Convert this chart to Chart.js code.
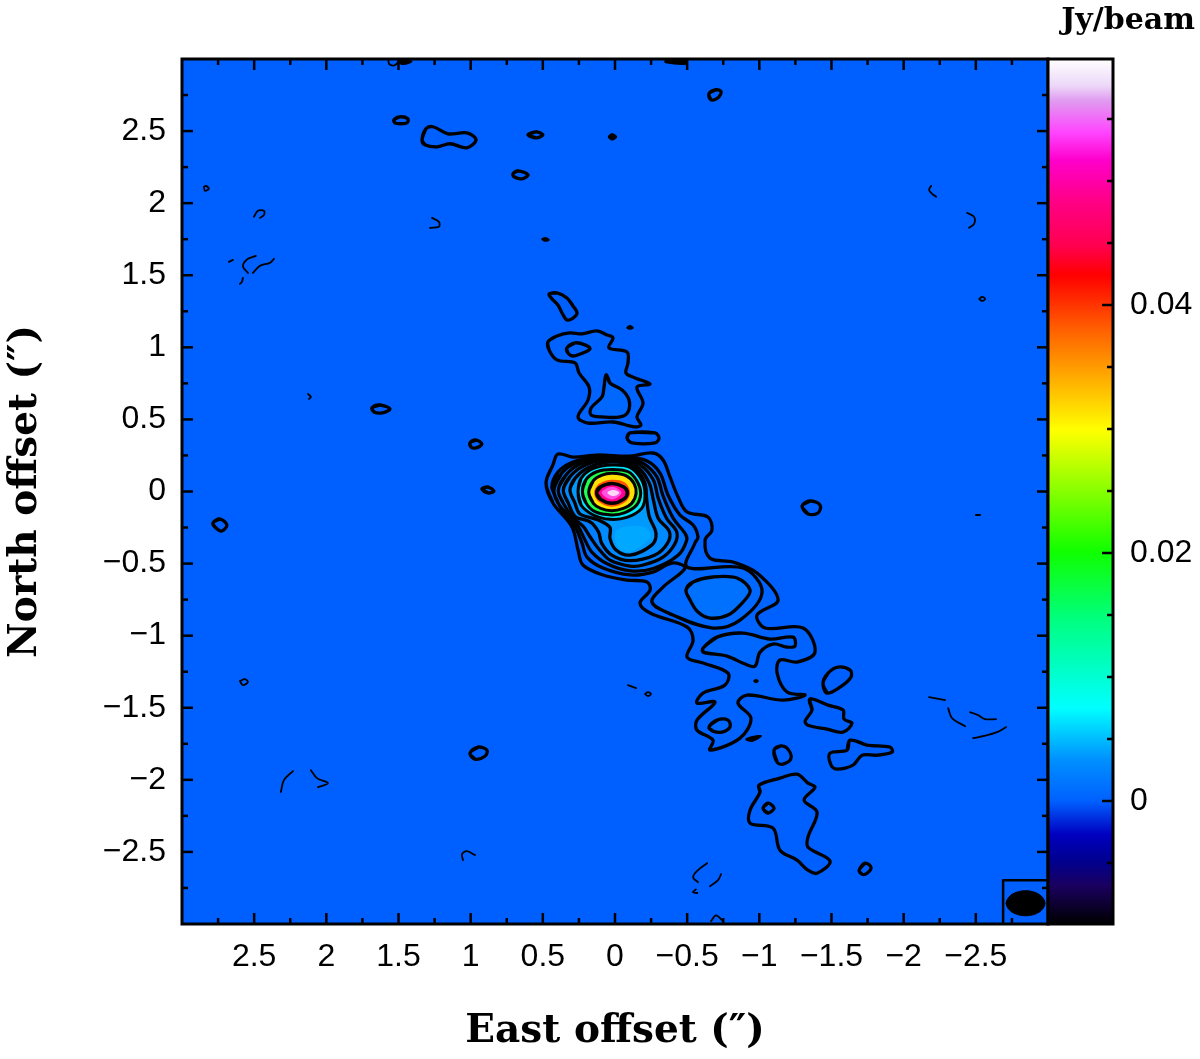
<!DOCTYPE html>
<html>
<head>
<meta charset="utf-8">
<title>Contour map</title>
<script src="https://cdn.jsdelivr.net/npm/chart.js@4/dist/chart.umd.js"></script>
<style>
  html, body { margin: 0; padding: 0; background: #fff; }
  canvas { position: absolute; top: 0; }
  #map { left: 0; }
  #cbar { left: 1040px; }
</style>
</head>
<body>
<canvas id="map" width="1060" height="1059"></canvas>
<canvas id="cbar" width="160" height="1059"></canvas>
<script>
// axis ticks, arcsec
const xTicks = [2.5, 2, 1.5, 1, 0.5, 0, -0.5, -1, -1.5, -2, -2.5];
const yTicks = [2.5, 2, 1.5, 1, 0.5, 0, -0.5, -1, -1.5, -2, -2.5];
const minorTicks = [2.75, 2.25, 1.75, 1.25, 0.75, 0.25, -0.25, -0.75, -1.25, -1.75, -2.25, -2.75];

// colour bar, Jy/beam
const cbarTicks = [0, 0.02, 0.04];
const cbarMinor = [-0.005, 0.005, 0.01, 0.015, 0.025, 0.03, 0.035, 0.045, 0.05, 0.055];
const cbarValues = [-0.00992, -0.0068, -0.0048, -0.0027, 0, 0.0033, 0.0075, 0.0146, 0.0201, 0.0299, 0.038, 0.0424, 0.0448, 0.0485, 0.0517, 0.0539, 0.0565, 0.0577, 0.05984];
const cbarColors = ['#000000', '#1a0060', '#000090', '#0000c0', '#0060ff', '#0090ff', '#00ffff', '#00ff80', '#10ff00', '#ffff00', '#ff6000', '#ff0000', '#ff0050', '#ff0088', '#ff00cc', '#ff44ff', '#e09cf0', '#ecd8f8', '#ffffff'];

// contours as [east, north] in arcsec, outermost first
const ridgeLevel1 = [[.478,.059],[.430,.184],[.395,.260],[.291,.239],[.125,.253],[-.104,.246],[-.263,.267],[-.333,.219],[-.381,.101],[-.437,-.038],[-.499,-.142],[-.644,-.177],[-.672,-.267],[-.624,-.337],[-.658,-.462],[-.818,-.489],[-.984,-.566],[-1.130,-.753],[-.984,-.857],[-1.040,-.947],[-1.303,-.947],[-1.386,-1.114],[-1.261,-1.183],[-1.143,-1.169],[-1.123,-1.260],[-1.192,-1.391],[-1.317,-1.412],[-1.164,-1.447],[-.915,-1.412],[-.852,-1.468],[-.942,-1.572],[-.866,-1.711],[-.658,-1.794],[-.679,-1.725],[-.568,-1.655],[-.568,-1.586],[-.693,-1.461],[-.568,-1.468],[-.610,-1.398],[-.762,-1.343],[-.783,-1.260],[-.610,-1.190],[-.499,-1.149],[-.541,-1.031],[-.499,-.940],[-.243,-.843],[-.173,-.774],[-.243,-.684],[-.222,-.628],[-.083,-.614],[.083,-.579],[.222,-.510],[.256,-.406],[.298,-.246],[.430,-.080]];
const ridgeLevel2 = [[.437,.031],[.395,.135],[.291,.205],[.125,.239],[-.083,.239],[-.222,.212],[-.312,.128],[-.367,-.024],[-.450,-.163],[-.541,-.232],[-.575,-.316],[-.554,-.357],[-.499,-.524],[-.887,-.531],[-1.019,-.697],[-.866,-.892],[-.679,-.947],[-.402,-.857],[-.256,-.767],[-.333,-.663],[-.485,-.531],[-.395,-.496],[-.263,-.559],[-.104,-.579],[.083,-.531],[.194,-.455],[.229,-.357],[.277,-.246],[.360,-.149],[.395,-.059]];
const lobe4 = [[.423,.010],[.370,.126],[.266,.200],[.104,.230],[-.081,.230],[-.196,.195],[-.289,.103],[-.335,-.036],[-.404,-.187],[-.485,-.291],[-.497,-.337],[-.439,-.441],[-.266,-.534],[-.104,-.550],[.058,-.499],[.162,-.418],[.208,-.337],[.254,-.244],[.312,-.180],[.393,-.082]];
const lobe3 = [[.393,.010],[.340,.114],[.242,.190],[.092,.223],[-.081,.223],[-.185,.177],[-.266,.079],[-.300,-.048],[-.358,-.187],[-.427,-.279],[-.416,-.360],[-.335,-.453],[-.196,-.510],[-.104,-.517],[.035,-.476],[.115,-.395],[.173,-.314],[.219,-.244],[.293,-.180],[.358,-.082]];
const lobe2 = [[.358,.010],[.312,.103],[.219,.177],[.081,.218],[-.069,.214],[-.169,.160],[-.238,.056],[-.266,-.059],[-.300,-.187],[-.377,-.279],[-.363,-.360],[-.277,-.441],[-.104,-.480],[.023,-.441],[.092,-.360],[.115,-.279],[.173,-.210],[.275,-.175],[.323,-.082]];
const lobe1 = [[.312,.010],[.277,.091],[.196,.160],[.069,.202],[-.069,.195],[-.150,.149],[-.208,.056],[-.220,-.059],[-.238,-.175],[-.284,-.291],[-.254,-.372],[-.104,-.441],[-.007,-.406],[.035,-.325],[.035,-.249],[.115,-.198],[.242,-.156],[.277,-.082]];
const lobeCore = [[-.012,-.268],[-.196,-.244],[-.247,-.314],[-.104,-.418],[-.016,-.383]];
const ring1 = [[.256,.000],[.235,.091],[.150,.160],[.021,.184],[-.104,.167],[-.185,.079],[-.208,-.025],[-.185,-.117],[-.081,-.180],[.035,-.193],[.150,-.163],[.235,-.094]];
const ring2 = [[.226,.000],[.200,.084],[.127,.137],[.021,.153],[-.092,.137],[-.155,.068],[-.178,-.013],[-.150,-.094],[-.069,-.147],[.023,-.163],[.139,-.140],[.200,-.082]];
const ring3 = [[.182,-.006],[.150,.075],[.090,.114],[.016,.126],[-.081,.107],[-.132,.056],[-.146,-.013],[-.116,-.082],[-.058,-.117],[.023,-.133],[.100,-.117],[.150,-.082]];
const peakHalo = [[.145,-.008],[.108,.056],[.021,.082],[-.069,.063],[-.105,-.008],[-.069,-.075],[.021,-.105],[.108,-.075]];
const peakRing = [[.127,-.008],[.099,.033],[.021,.056],[-.058,.033],[-.086,-.008],[-.058,-.055],[.021,-.082],[.099,-.055]];
const peakInner = [[.092,-.008],[.021,.033],[-.046,-.008],[.021,-.055]];
const peakCore = [[.053,-.008],[.011,.010],[-.030,-.008],[.011,-.032]];

const southOval = [[-.492,-.684],[-.541,-.628],[-.679,-.593],[-.845,-.600],[-.936,-.684],[-.887,-.767],[-.783,-.857],[-.658,-.878],[-.575,-.836],[-.520,-.753]];
const tailInner = [[-.610,-1.086],[-.707,-1.010],[-.887,-.982],[-1.074,-1.024],[-1.234,-1.010],[-1.247,-1.072],[-1.192,-1.079],[-1.095,-1.058],[-1.005,-1.114],[-.970,-1.211],[-.901,-1.197],[-.776,-1.142],[-.610,-1.114]];
const tailLeftBlob = [[-.651,-1.634],[-.707,-1.586],[-.783,-1.586],[-.797,-1.634],[-.742,-1.669],[-.679,-1.662]];
const northBlob = [[.457,1.370],[.402,1.377],[.333,1.342],[.291,1.287],[.263,1.238],[.291,1.203],[.333,1.190],[.367,1.238],[.395,1.294],[.436,1.335]];
const northArm = [[.464,1.038],[.402,1.079],[.312,1.100],[.229,1.093],[.125,1.114],[.055,1.086],[.014,1.065],[.042,.996],[-.083,.968],[-.090,.892],[-.076,.822],[-.139,.788],[-.243,.746],[-.152,.725],[-.194,.614],[-.152,.517],[-.180,.462],[-.139,.448],[.014,.482],[.187,.475],[.256,.517],[.187,.635],[.180,.725],[.249,.822],[.277,.892],[.402,.913],[.457,.982]];
const northArmLeft = [[.333,.996],[.277,1.031],[.208,1.017],[.173,.989],[.222,.961],[.291,.940],[.326,.961]];
const northArmLow = [[.062,.809],[.035,.753],[-.049,.704],[-.097,.635],[-.090,.552],[-.035,.517],[.090,.517],[.166,.531],[.166,.579],[.090,.656],[.076,.725]];
const northBar = [[-.104,.406],[-.277,.406],[-.305,.371],[-.277,.337],[-.118,.337],[-.083,.371]];

// isolated thick contours
const islands = [
  [[1.532,2.578],[1.490,2.599],[1.435,2.585],[1.441,2.557],[1.490,2.551],[1.525,2.557]],
  [[1.337,2.440],[1.310,2.516],[1.261,2.530],[1.157,2.481],[1.026,2.488],[.963,2.440],[1.026,2.384],[1.143,2.412],[1.234,2.391],[1.317,2.405]],
  [[.603,2.474],[.547,2.495],[.499,2.474],[.547,2.453]],
  [[.707,2.203],[.672,2.224],[.603,2.197],[.644,2.169],[.700,2.183]],
  [[-.651,2.759],[-.700,2.787],[-.735,2.773],[-.714,2.731],[-.665,2.717]],
  [[1.684,.580],[1.629,.600],[1.559,.573],[1.615,.545],[1.670,.552]],
  [[1.005,.337],[.963,.357],[.922,.330],[.963,.302],[.998,.309]],
  [[.922,.017],[.880,.031],[.839,.003],[.880,-.010]],
  [[2.786,-.219],[2.737,-.191],[2.689,-.232],[2.724,-.274],[2.765,-.253]],
  [[-1.296,-.101],[-1.351,-.066],[-1.421,-.094],[-1.407,-.149],[-1.338,-.156]],
  [[1.005,-1.815],[.949,-1.773],[.887,-1.794],[.901,-1.836],[.970,-1.857]],
  [[-1.441,-1.329],[-1.476,-1.260],[-1.545,-1.218],[-1.629,-1.239],[-1.635,-1.287],[-1.559,-1.357],[-1.469,-1.398]],
  [[-1.351,-1.440],[-1.476,-1.482],[-1.580,-1.516],[-1.587,-1.579],[-1.642,-1.607],[-1.580,-1.669],[-1.469,-1.649],[-1.337,-1.621],[-1.317,-1.593],[-1.365,-1.516]],
  [[-1.629,-1.725],[-1.746,-1.759],[-1.906,-1.773],[-1.920,-1.808],[-1.816,-1.829],[-1.712,-1.829],[-1.649,-1.898],[-1.538,-1.926],[-1.497,-1.898],[-1.490,-1.815],[-1.608,-1.794]],
  [[-1.102,-1.794],[-1.143,-1.766],[-1.192,-1.780],[-1.220,-1.850],[-1.164,-1.891],[-1.123,-1.877]],
  [[-.998,-2.037],[-1.143,-1.988],[-1.261,-1.961],[-1.337,-2.023],[-1.386,-2.051],[-1.310,-2.141],[-1.400,-2.224],[-1.337,-2.398],[-1.337,-2.467],[-1.490,-2.564],[-1.400,-2.648],[-1.337,-2.627],[-1.261,-2.557],[-1.143,-2.488],[-1.095,-2.335],[-.936,-2.301],[-.936,-2.210],[-1.005,-2.085]],
  [[-1.026,-2.197],[-1.060,-2.162],[-1.102,-2.197],[-1.060,-2.231]],
  [[-1.691,-2.627],[-1.733,-2.578],[-1.774,-2.606],[-1.746,-2.648],[-1.712,-2.655]]
];
// tiny contours that read as dots
const dots = [
  [[.045,2.46],[.02,2.48],[-.01,2.46],[.02,2.44]],
  [[-.083,1.135],[-.104,1.149],[-.125,1.135],[-.104,1.128]],
  [[.506,1.752],[.478,1.759],[.457,1.745],[.485,1.738]],
  [[-.908,-1.718],[-.970,-1.697],[-1.012,-1.697],[-.949,-1.732]],
  [[-.963,-1.315],[-.977,-1.305],[-.991,-1.315],[-.977,-1.325]],
  [[1.50,2.99],[1.48,2.965],[1.43,2.97],[1.41,2.985]],
  [[-.35,2.99],[-.35,2.975],[-.49,2.965],[-.49,2.99]]
];
// thin open pieces
const thinLines = [
  [[1.57,2.99],[1.565,2.965],[1.53,2.955],[1.50,2.98]],
  [[2.848,2.113],[2.834,2.120],[2.814,2.099],[2.841,2.086],[2.848,2.113]],
  [[2.502,1.905],[2.474,1.947],[2.432,1.947],[2.432,1.919],[2.460,1.898]],
  [[1.268,1.898],[1.220,1.870],[1.220,1.836],[1.282,1.829]],
  [[2.675,1.593],[2.647,1.607]],
  [[2.488,1.634],[2.543,1.614],[2.578,1.565],[2.543,1.516]],
  [[2.509,1.516],[2.460,1.565],[2.391,1.586],[2.363,1.614]],
  [[2.578,1.482],[2.585,1.454],[2.599,1.440]],
  [[-2.190,2.120],[-2.176,2.092],[-2.197,2.065],[-2.225,2.044]],
  [[-2.439,1.933],[-2.488,1.905],[-2.488,1.856],[-2.453,1.829]],
  [[-2.523,1.336],[-2.543,1.350],[-2.564,1.336],[-2.543,1.322],[-2.523,1.336]],
  [[-2.50,-.163],[-2.53,-.163]],
  [[2.127,.677],[2.107,.656],[2.120,.642]],
  [[2.599,-1.315],[2.564,-1.301],[2.543,-1.322],[2.578,-1.343],[2.599,-1.315]],
  [[-.090,-1.343],[-.146,-1.364]],
  [[-.208,-1.405],[-.229,-1.391],[-.249,-1.405],[-.229,-1.419],[-.208,-1.405]],
  [[2.315,-2.085],[2.294,-2.002],[2.231,-1.939]],
  [[2.107,-1.933],[2.065,-1.988],[1.989,-2.023],[2.058,-2.051]],
  [[1.053,-2.557],[1.060,-2.515],[1.026,-2.495],[.970,-2.522]],
  [[-.638,-2.578],[-.575,-2.626],[-.541,-2.675],[-.575,-2.710]],
  [[-.735,-2.654],[-.714,-2.696],[-.658,-2.738]],
  [[-.56,-2.76],[-.54,-2.78],[-.57,-2.785]],
  [[-.665,-2.98],[-.700,-2.94],[-.748,-2.98]],
  [[-2.460,-1.530],[-2.516,-1.551],[-2.564,-1.579],[-2.640,-1.579]],
  [[-2.481,-1.711],[-2.550,-1.697],[-2.647,-1.669],[-2.710,-1.634]],
  [[-2.176,-1.426],[-2.287,-1.447]],
  [[-2.308,-1.503],[-2.335,-1.572],[-2.426,-1.628]]
];
const beam = [[-2.71,-2.856],[-2.75,-2.795],[-2.845,-2.769],[-2.94,-2.795],[-2.98,-2.856],[-2.94,-2.917],[-2.845,-2.943],[-2.75,-2.917]];
const beamBox = [[-3,-2.696],[-2.689,-2.696],[-2.689,-3]];

const toXY = pts => pts.map(p => ({ x: p[0], y: p[1] }));
// repeat the ends so the spline runs smoothly through the closing point
const closeLoop = pts => [pts[pts.length - 1], ...pts, pts[0], pts[1]];

const datasets = [];
function addLoop(pts, fillColor, width) {
  datasets.push({
    data: toXY(closeLoop(pts)),
    backgroundColor: fillColor || 'rgba(0,0,0,0)',
    fill: fillColor ? 'shape' : false,
    borderColor: '#000',
    borderWidth: width,
    tension: 0.35
  });
}
function addOpen(pts, width, tension) {
  datasets.push({ data: toXY(pts), fill: false, borderColor: '#000', borderWidth: width, tension: tension });
}

addLoop(ridgeLevel1, '#0063ff', 3.3);
addLoop(ridgeLevel2, '#0068ff', 3.3);
addLoop(southOval, '#0070ff', 3.3);
addLoop(tailInner, '#0068ff', 3.3);
addLoop(tailLeftBlob, '#0068ff', 3.3);
addLoop(lobe4, '#0074ff', 3.3);
addLoop(lobe3, '#007eff', 3.3);
addLoop(lobe2, '#008aff', 3.3);
addLoop(lobe1, '#009aff', 3.3);
addLoop(lobeCore, '#00a8ff', 0);
addLoop(ring1, '#00e8ff', 3);
addLoop(ring2, '#20ff50', 3);
addLoop(ring3, '#ffe000', 3);
addLoop(peakHalo, '#ff5000', 0);
addLoop(peakRing, '#ff0090', 3.5);
addLoop(peakInner, '#ff50e0', 0);
addLoop(peakCore, '#ffd8f8', 0);
addLoop(northBlob, null, 3.3);
addLoop(northArm, '#0063ff', 3.3);
addLoop(northArmLeft, null, 3.3);
addLoop(northArmLow, '#0068ff', 3.3);
addLoop(northBar, null, 3.3);
islands.forEach(pts => addLoop(pts, null, 3.3));
dots.forEach(pts => addLoop(pts, '#000', 1.5));
thinLines.forEach(pts => addOpen(pts, 1.8, 0.35));
addLoop(beam, '#000', 1);
addOpen(beamBox, 2.5, 0);
// first listed sits at the back
datasets.forEach((d, i) => { d.order = datasets.length - i; d.pointRadius = 0; d.showLine = true; d.borderJoinStyle = 'round'; d.borderCapStyle = 'round'; });

const labelFont = { family: '"Liberation Sans"', size: 32 };
const titleFont = { family: '"DejaVu Serif"', size: 39, weight: 'bold' };
const minus = v => String(v).replace('-', '\u2212');

function drawInTicks(ctx, scale, values, len, side, area) {
  values.forEach(v => {
    const p = scale.getPixelForValue(v);
    ctx.beginPath();
    if (side === 'bottom') { ctx.moveTo(p, area.bottom); ctx.lineTo(p, area.bottom - len); }
    if (side === 'top') { ctx.moveTo(p, area.top); ctx.lineTo(p, area.top + len); }
    if (side === 'left') { ctx.moveTo(area.left, p); ctx.lineTo(area.left + len, p); }
    if (side === 'right') { ctx.moveTo(area.right, p); ctx.lineTo(area.right - len, p); }
    ctx.stroke();
  });
}

const mapFrame = {
  id: 'mapFrame',
  beforeDatasetsDraw(chart) {
    const a = chart.chartArea, ctx = chart.ctx;
    ctx.save();
    ctx.fillStyle = '#0060ff';
    ctx.fillRect(a.left, a.top, a.right - a.left, a.bottom - a.top);
    ctx.restore();
  },
  afterDatasetsDraw(chart) {
    const a = chart.chartArea, ctx = chart.ctx;
    ctx.save();
    ctx.strokeStyle = '#000';
    ctx.lineWidth = 2.5;
    ['bottom', 'top'].forEach(s => {
      drawInTicks(ctx, chart.scales.x, xTicks, 11, s, a);
      drawInTicks(ctx, chart.scales.x, minorTicks, 6, s, a);
    });
    ['left', 'right'].forEach(s => {
      drawInTicks(ctx, chart.scales.y, yTicks, 11, s, a);
      drawInTicks(ctx, chart.scales.y, minorTicks, 6, s, a);
    });
    ctx.lineWidth = 3;
    ctx.strokeRect(a.left, a.top, a.right - a.left, a.bottom - a.top);
    ctx.restore();
  }
};

new Chart(document.getElementById('map'), {
  type: 'scatter',
  data: { datasets: datasets },
  options: {
    responsive: false,
    animation: false,
    events: [],
    devicePixelRatio: 1,
    layout: { padding: { top: 59, right: 12, left: 0, bottom: 0 } },
    plugins: { legend: { display: false }, tooltip: { enabled: false } },
    scales: {
      x: {
        type: 'linear', reverse: true, min: -3, max: 3,
        afterBuildTicks: s => { s.ticks = xTicks.map(v => ({ value: v })); },
        afterFit: s => { s.height = 135; },
        grid: { display: false, drawTicks: false }, border: { display: false },
        ticks: { font: labelFont, color: '#000', padding: 14, maxRotation: 0, autoSkip: false, callback: minus },
        title: { display: true, text: 'East offset (\u2033)', color: '#000', font: titleFont, padding: { top: 0, bottom: 4 } }
      },
      y: {
        type: 'linear', min: -3, max: 3,
        afterBuildTicks: s => { s.ticks = yTicks.map(v => ({ value: v })); },
        afterFit: s => { s.width = 182; },
        grid: { display: false, drawTicks: false }, border: { display: false },
        ticks: { font: labelFont, color: '#000', padding: 16, autoSkip: false, callback: minus },
        title: { display: true, text: 'North offset (\u2033)', color: '#000', font: titleFont, padding: { top: 2, bottom: 0 } }
      }
    }
  },
  plugins: [mapFrame]
});

const cbarMin = cbarValues[0], cbarMax = cbarValues[cbarValues.length - 1];
const cbarFrame = {
  id: 'cbarFrame',
  afterDatasetsDraw(chart) {
    const a = chart.chartArea, ctx = chart.ctx;
    ctx.save();
    ctx.strokeStyle = '#000';
    ctx.lineWidth = 2.5;
    drawInTicks(ctx, chart.scales.y, cbarTicks, 11, 'right', a);
    drawInTicks(ctx, chart.scales.y, cbarMinor, 6, 'right', a);
    ctx.lineWidth = 3;
    ctx.strokeRect(a.left, a.top, a.right - a.left, a.bottom - a.top);
    ctx.restore();
  }
};

new Chart(document.getElementById('cbar'), {
  type: 'bar',
  data: {
    labels: ['Jy/beam'],
    datasets: [{
      data: [[cbarMin, cbarMax]],
      barPercentage: 1,
      categoryPercentage: 1,
      backgroundColor(c) {
        const chart = c.chart;
        if (!chart.chartArea) return '#000';
        const y = chart.scales.y;
        const g = chart.ctx.createLinearGradient(0, y.getPixelForValue(cbarMin), 0, y.getPixelForValue(cbarMax));
        cbarValues.forEach((v, i) => g.addColorStop((v - cbarMin) / (cbarMax - cbarMin), cbarColors[i]));
        return g;
      }
    }]
  },
  options: {
    responsive: false,
    animation: false,
    events: [],
    devicePixelRatio: 1,
    layout: { padding: { left: 8, right: 5, top: 0, bottom: 135 } },
    plugins: {
      legend: { display: false },
      tooltip: { enabled: false },
      title: {
        display: true, text: 'Jy/beam', align: 'end', color: '#000',
        font: { family: '"DejaVu Serif"', size: 30, weight: 'bold', lineHeight: 1.2 },
        padding: { top: 3, bottom: 20 }
      }
    },
    scales: {
      x: { display: false },
      y: {
        position: 'right', min: cbarMin, max: cbarMax,
        afterBuildTicks: s => { s.ticks = cbarTicks.map(v => ({ value: v })); },
        afterFit: s => { s.width = 82; },
        grid: { display: false, drawTicks: false }, border: { display: false },
        ticks: { font: labelFont, color: '#000', padding: 17, callback: v => String(v) }
      }
    }
  },
  plugins: [cbarFrame]
});
</script>
</body>
</html>
